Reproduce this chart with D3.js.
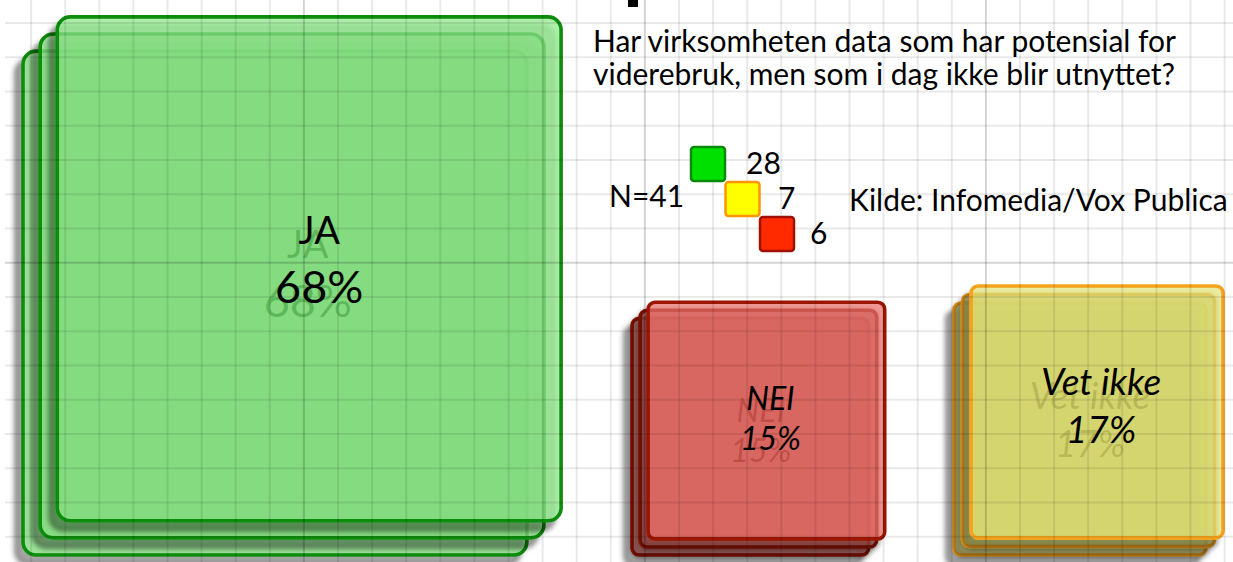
<!DOCTYPE html>
<html>
<head>
<meta charset="utf-8">
<script src="https://cdn.jsdelivr.net/npm/d3@7"></script>
<style>
body { margin: 0; background: #fff; }
svg { display: block; }
text { font-family: Lato, "Liberation Sans", sans-serif; }
</style>
</head>
<body>
<div id="chart"></div>
<script>
// data
var categories = ["JA", "NEI", "Vet ikke"];
var percents = [68, 15, 17];
var counts = [28, 6, 7];
var titleLines = ["Har virksomheten data som har potensial for",
                  "viderebruk, men som i dag ikke blir utnyttet?"];
var legendCounts = [28, 7, 6];
var sampleLabel = "N=41";
var sourceLabel = "Kilde: Infomedia/Vox Publica";

var W = 1233, H = 562;

// styles
var boxFill = ["rgb(140,232,135)", "rgb(230,108,103)", "rgb(226,226,118)"];
var boxStroke = ["#0a8c0a", "#9a1400", "#f5a21e"];
var ghostFill = ["#0b6e0b", "#8a1a10", "#7a7a20"];
var legendFill = ["#00e000", "#ffff00", "#ff2a00"];
var legendStroke = ["#078a07", "#ff9500", "#a01000"];

// layout
var slotLeft = [23, 632, 954];
var baseY = 555;
var labelSize = [[38, 45], [32, 32], [37, 37]];
var labelOff = [[-25, 34], [-11, 29], [-17, 31]];

var size = d3.scaleSqrt().domain([0, 100]).range([0, 611]);

var svg = d3.select("#chart").append("svg")
    .attr("width", W)
    .attr("height", H);

svg.append("rect").attr("width", W).attr("height", H).attr("fill", "#fff");

var defs = svg.append("defs");
defs.append("filter")
    .attr("id", "shadow")
    .attr("x", "-20%").attr("y", "-20%")
    .attr("width", "140%").attr("height", "140%")
  .append("feDropShadow")
    .attr("dx", -7).attr("dy", 9)
    .attr("stdDeviation", 2.5)
    .attr("flood-color", "#000")
    .attr("flood-opacity", 0.5);

// boxes, three stacked sheets per answer
var boxes = categories.map(function(c, i) {
    var s = size(percents[i]);
    var step = s * 0.034;
    return {name: c, i: i, pct: percents[i], s: s, step: step,
            fx: slotLeft[i] + 2 * step, fy: baseY - 2 * step - s};
});

var groups = svg.selectAll("g.box")
    .data(boxes)
    .enter()
    .append("g")
    .attr("class", "box");

groups.selectAll("rect")
    .data(function(d) {
        return [2, 1, 0].map(function(l) { return {b: d, l: l}; });
    })
    .enter()
    .append("rect")
    .attr("x", function(d) { return slotLeft[d.b.i] + (2 - d.l) * d.b.step; })
    .attr("y", function(d) { return baseY - (2 - d.l) * d.b.step - d.b.s; })
    .attr("width", function(d) { return d.b.s; })
    .attr("height", function(d) { return d.b.s; })
    .attr("rx", function(d) { return Math.max(7, d.b.s * 0.026); })
    .attr("fill", function(d) { return boxFill[d.b.i]; })
    .attr("fill-opacity", 0.7)
    .attr("stroke", function(d) { return boxStroke[d.b.i]; })
    .attr("stroke-width", 3.6)
    .attr("filter", "url(#shadow)");

// grid on top of the sheets
var gx = d3.range(1, 40).map(function(k) { return {v: -3 + 34.1 * k, major: k % 10 === 9}; })
    .filter(function(d) { return d.v < W; });
var gy = d3.range(0, 17).map(function(k) { return {v: 23 + 34.25 * k, major: k === 7}; })
    .filter(function(d) { return d.v < H; });

var grid = svg.append("g");
grid.selectAll("line.v")
    .data(gx)
    .enter()
    .append("line")
    .attr("x1", function(d) { return d.v; })
    .attr("x2", function(d) { return d.v; })
    .attr("y1", 0).attr("y2", H)
    .attr("stroke", "#000")
    .attr("stroke-opacity", function(d) { return d.major ? 0.17 : 0.085; })
    .attr("stroke-width", 2);
grid.selectAll("line.h")
    .data(gy)
    .enter()
    .append("line")
    .attr("x1", 5).attr("x2", W)
    .attr("y1", function(d) { return d.v; })
    .attr("y2", function(d) { return d.v; })
    .attr("stroke", "#000")
    .attr("stroke-opacity", function(d) { return d.major ? 0.17 : 0.085; })
    .attr("stroke-width", 2);

// labels inside the boxes (faded copy behind)
boxes.forEach(function(d) {
    var cx = d.fx + d.s / 2 + (d.i === 0 ? 10 : 4);
    var cy = d.fy + d.s / 2;
    var lines = [d.name, d.pct + "%"];
    var style = d.i === 0 ? "normal" : "italic";
    var F = labelSize[d.i][0];
    [[-F * 0.3, F * 0.38, ghostFill[d.i], 0.33], [0, 0, "#000", 1]].forEach(function(o) {
        svg.selectAll(null)
            .data(lines)
            .enter()
            .append("text")
            .attr("x", cx + o[0])
            .attr("y", function(t, j) { return cy + o[1] + labelOff[d.i][j]; })
            .attr("text-anchor", "middle")
            .attr("font-size", function(t, j) { return labelSize[d.i][j]; })
            .attr("font-style", style)
            .attr("fill", o[2])
            .attr("fill-opacity", o[3])
            .text(function(t) { return t; });
    });
});

// title
svg.append("rect").attr("x", 628).attr("y", 0).attr("width", 10).attr("height", 7).attr("fill", "#000");
svg.selectAll("text.title")
    .data(titleLines)
    .enter()
    .append("text")
    .attr("class", "title")
    .attr("x", 593)
    .attr("y", function(d, i) { return 52 + i * 33; })
    .attr("font-size", 30)
    .attr("fill", "#000")
    .text(function(d) { return d; });

// legend
var leg = svg.append("g");
leg.selectAll("rect")
    .data(legendCounts)
    .enter()
    .append("rect")
    .attr("x", function(d, i) { return 691 + i * 34.5; })
    .attr("y", function(d, i) { return 147 + i * 35; })
    .attr("width", 34).attr("height", 34)
    .attr("rx", 3)
    .attr("fill", function(d, i) { return legendFill[i]; })
    .attr("stroke", function(d, i) { return legendStroke[i]; })
    .attr("stroke-width", 2.5);
leg.selectAll("text")
    .data(legendCounts)
    .enter()
    .append("text")
    .attr("x", function(d, i) { return 746 + i * 32; })
    .attr("y", function(d, i) { return 174 + i * 35; })
    .attr("font-size", 30)
    .text(function(d) { return d; });

svg.append("text").attr("x", 609).attr("y", 207).attr("font-size", 30).text(sampleLabel);
svg.append("text").attr("x", 849).attr("y", 211).attr("font-size", 30).text(sourceLabel);
</script>
</body>
</html>
